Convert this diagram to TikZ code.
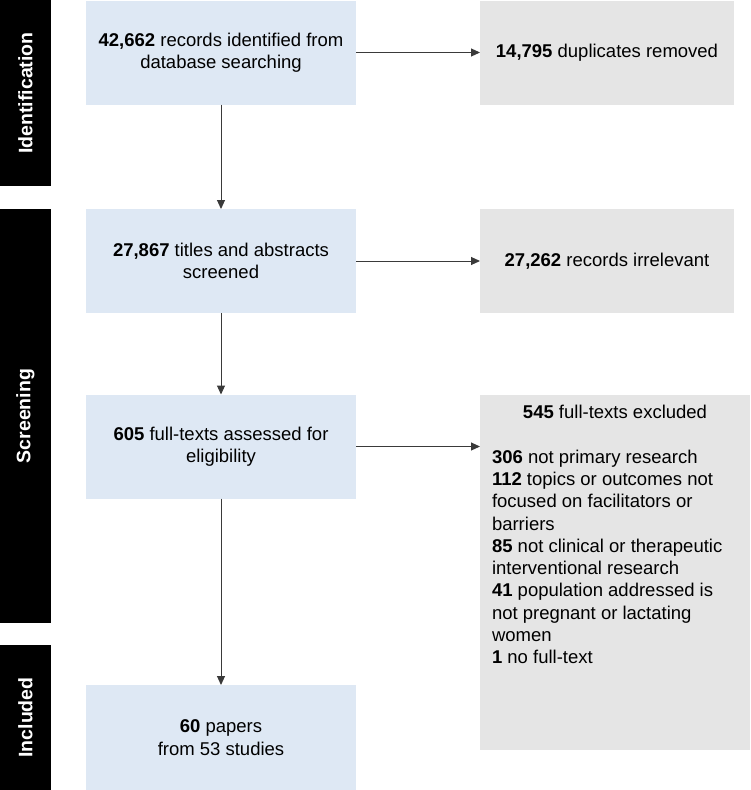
\documentclass[tikz,border=0pt]{standalone}
\usepackage{fontspec}
\setmainfont{Liberation Sans}
\usetikzlibrary{arrows.meta}
\definecolor{bluebox}{HTML}{DEE8F4}
\definecolor{graybox}{HTML}{E5E5E5}
\definecolor{linec}{HTML}{3A3A3A}
\begin{document}
\begin{tikzpicture}[x=1pt,y=-1pt,
  txt/.style={font=\fontsize{18.5}{22.3}\selectfont},
  bbox/.style={txt, fill=bluebox, draw=none, inner sep=0, outer sep=0, align=center, minimum width=270pt, minimum height=104pt},
  gbox/.style={txt, fill=graybox, draw=none, inner sep=0, outer sep=0, align=center, minimum width=254pt, minimum height=104pt},
  bar/.style={fill=black, text=white, inner sep=0, outer sep=0, rotate=90, minimum height=51pt, font=\fontsize{19.5}{22}\selectfont\bfseries},
  conn/.style={draw=linec, line width=1pt, -{Triangle[length=9pt,width=8pt]}}]
\useasboundingbox (0,0) rectangle (750,790);
% side bars
\node[bar, minimum width=186pt] (sid) at (25.5,93) {Identification};
\node[bar, minimum width=414pt] (sscr) at (25.5,416) {Screening};
\node[bar, minimum width=145pt] (sinc) at (25.5,717.5) {Included};
% left column
\node[bbox] (b1) at (221,52.5) {\textbf{42,662} records identified from\\database searching};
\node[bbox] (b2) at (221,261) {\textbf{27,867} titles and abstracts\\screened};
\node[bbox] (b3) at (221,446.5) {\textbf{605} full-texts assessed for\\eligibility};
\node[bbox, minimum height=105pt] (b4) at (221,737.5) {\textbf{60} papers\\from 53 studies};
% right column
\node[gbox] (r1) at (607,52.5) {\textbf{14,795} duplicates removed};
\node[gbox] (r2) at (607,261) {\textbf{27,262} records irrelevant};
\node[txt, fill=graybox, inner sep=0, outer sep=0, anchor=north west] (r3) at (480,395) {\parbox[t][355pt][t]{270pt}{%
\centering\rule{0pt}{23.5pt}\textbf{545} full-texts excluded\par
\vspace{22.3pt}%
\raggedright\leftskip=12pt
\textbf{306} not primary research\\
\textbf{112} topics or outcomes not\\
focused on facilitators or\\
barriers\\
\textbf{85} not clinical or therapeutic\\
interventional research\\
\textbf{41} population addressed is\\
not pregnant or lactating\\
women\\
\textbf{1} no full-text\par}};
% connectors
\draw[conn] (b1.east) -- (r1.west);
\draw[conn] (b2.east) -- (r2.west);
\draw[conn] (b3.east) -- (b3.east -| r3.west);
\draw[conn] (b1.south) -- (b2.north);
\draw[conn] (b2.south) -- (b3.north);
\draw[conn] (b3.south) -- (b4.north);
\end{tikzpicture}
\end{document}
